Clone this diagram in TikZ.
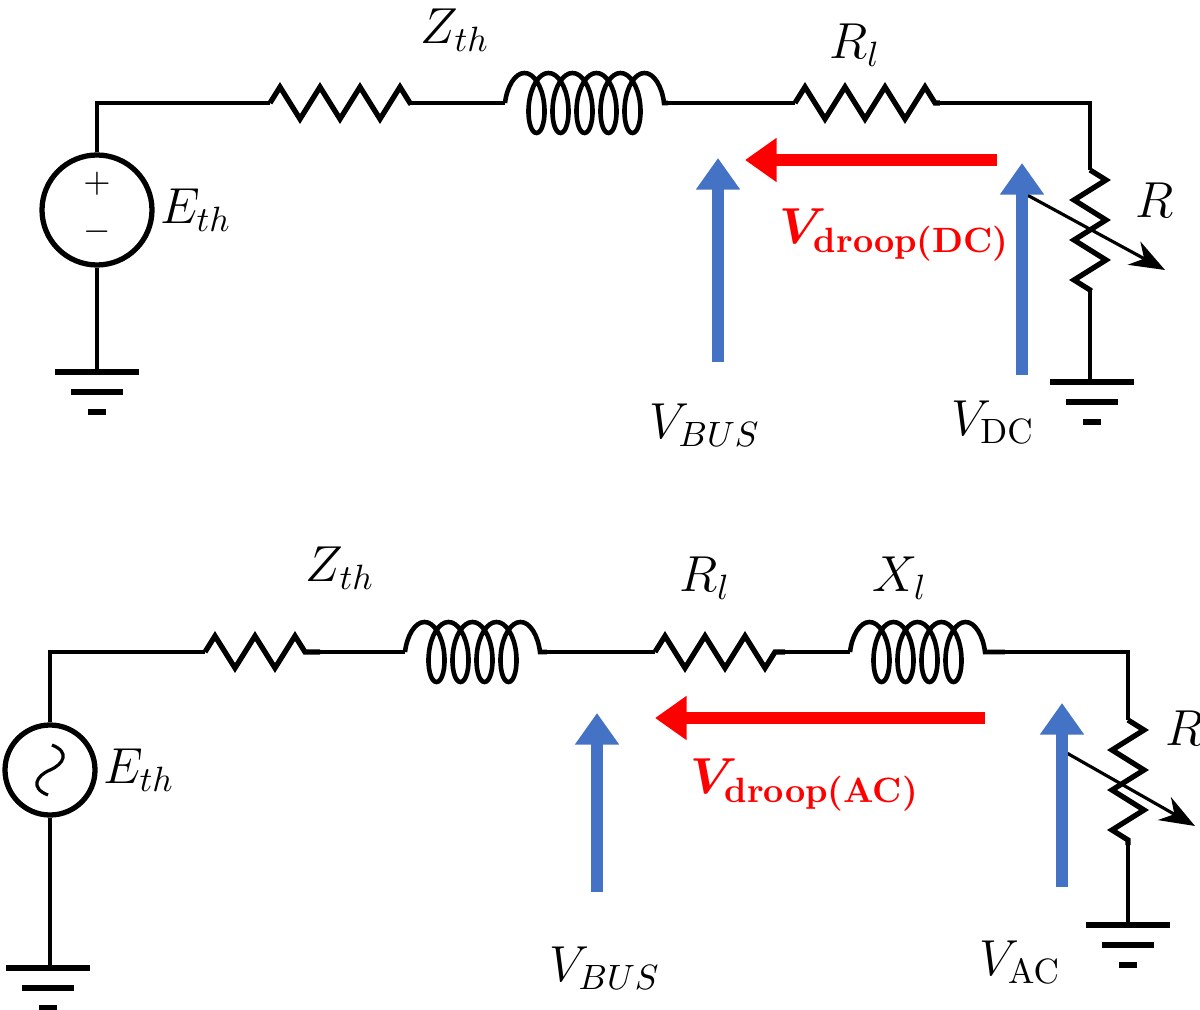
\documentclass[tikz,border=0pt]{standalone}
\usepackage{amsmath}
\usepackage{bm}
\usetikzlibrary{arrows.meta, decorations.pathmorphing, positioning}
\tikzset{
	wire/.style={line width=0.9pt},
	res/.style={line width=1.5pt, decorate, decoration={zigzag, amplitude=0.16cm, segment length=0.4cm}},
	ind/.style={line width=1.3pt, decorate, decoration={coil, amplitude=0.3cm, segment length=0.24cm, aspect=0.45}},
	gnd/.style={line width=1.8pt},
	volt/.style={line width=3.2pt, draw={rgb,255:red,68;green,114;blue,196}, -{Triangle[length=9pt,width=12pt]}},
	droop/.style={line width=3.2pt, draw=red, -{Triangle[length=9pt,width=12pt]}},
	lbl/.style={font=\Large},
}
\newcommand{\grnd}[2]{%
	\draw [gnd] (#1-42,#2) -- (#1+42,#2);
	\draw [gnd] (#1-26,#2+20) -- (#1+26,#2+20);
	\draw [gnd] (#1-9,#2+40) -- (#1+9,#2+40);}
\begin{document}
\begin{tikzpicture}[x=0.1mm, y=-0.1mm]
	\useasboundingbox (0,0) rectangle (1200,1010);
	% top circuit (DC)
	\node [circle, line width=1.5pt, draw, minimum size=1.1cm] (eth1) at (97,210) {};
	\node at (97,184) {$+$};
	\node at (97,232) {$-$};
	\node [lbl, right=-2pt of eth1] {$E_{th}$};
	\draw [wire] (eth1.north) -- (97,103) -- (270,103);
	\draw [res] (270,103) -- (410,103);
	\draw [wire] (410,103) -- (505,103);
	\draw [ind] (505,103) -- (668,103);
	\draw [wire] (668,103) -- (795,103);
	\draw [res] (795,103) -- (940,103);
	\draw [wire] (940,103) -- (1090,103) -- (1090,170);
	\draw [res] (1090,170) -- (1090,290);
	\draw [wire] (1090,290) -- (1090,380);
	\draw [wire, -{Stealth[length=10pt]}] (1018,190) -- (1165,270);
	\draw [wire] (eth1.south) -- (97,372);
	\grnd{97}{372}
	\grnd{1092}{382}
	\node [lbl] at (455,30) {$Z_{th}$};
	\node [lbl] at (855,45) {$R_{l}$};
	\node [lbl] at (1155,200) {$R$};
	\draw [volt] (718,362) -- (718,158);
	\draw [volt] (1022,375) -- (1022,163);
	\draw [droop] (997,160) -- (745,160);
	\node [lbl, text=red] at (895,235) {$\bm{V}_{\textbf{droop(DC)}}$};
	\node [lbl] at (705,425) {$V_{BUS}$};
	\node [lbl] at (993,422) {$V_{\mathrm{DC}}$};
	% bottom circuit (AC)
	\node [circle, line width=1.5pt, draw, minimum size=0.9cm] (eth2) at (50,770) {};
	\draw [wire] (48,795) .. controls (30,788) and (36,776) .. (50,770) .. controls (64,764) and (70,752) .. (52,745);
	\node [lbl, right=-2pt of eth2] {$E_{th}$};
	\draw [wire] (eth2.north) -- (50,652) -- (205,652);
	\draw [res] (205,652) -- (320,652);
	\draw [wire] (320,652) -- (405,652);
	\draw [ind] (405,652) -- (547,652);
	\draw [wire] (547,652) -- (655,652);
	\draw [res] (655,652) -- (785,652);
	\draw [wire] (785,652) -- (850,652);
	\draw [ind] (850,652) -- (1005,652);
	\draw [wire] (1005,652) -- (1128,652) -- (1128,720);
	\draw [res] (1128,720) -- (1128,845);
	\draw [wire] (1128,845) -- (1128,925);
	\draw [wire, -{Stealth[length=10pt]}] (1058,748) -- (1195,826);
	\draw [wire] (eth2.south) -- (50,968);
	\grnd{48}{968}
	\grnd{1128}{925}
	\node [lbl] at (340,568) {$Z_{th}$};
	\node [lbl] at (705,578) {$R_{l}$};
	\node [lbl] at (900,578) {$X_{l}$};
	\node [lbl] at (1185,728) {$R$};
	\draw [volt] (597,892) -- (597,713);
	\draw [volt] (1062,887) -- (1062,703);
	\draw [droop] (985,718) -- (655,718);
	\node [lbl, text=red] at (805,785) {$\bm{V}_{\textbf{droop(AC)}}$};
	\node [lbl] at (605,968) {$V_{BUS}$};
	\node [lbl] at (1020,962) {$V_{\mathrm{AC}}$};
\end{tikzpicture}
\end{document}
